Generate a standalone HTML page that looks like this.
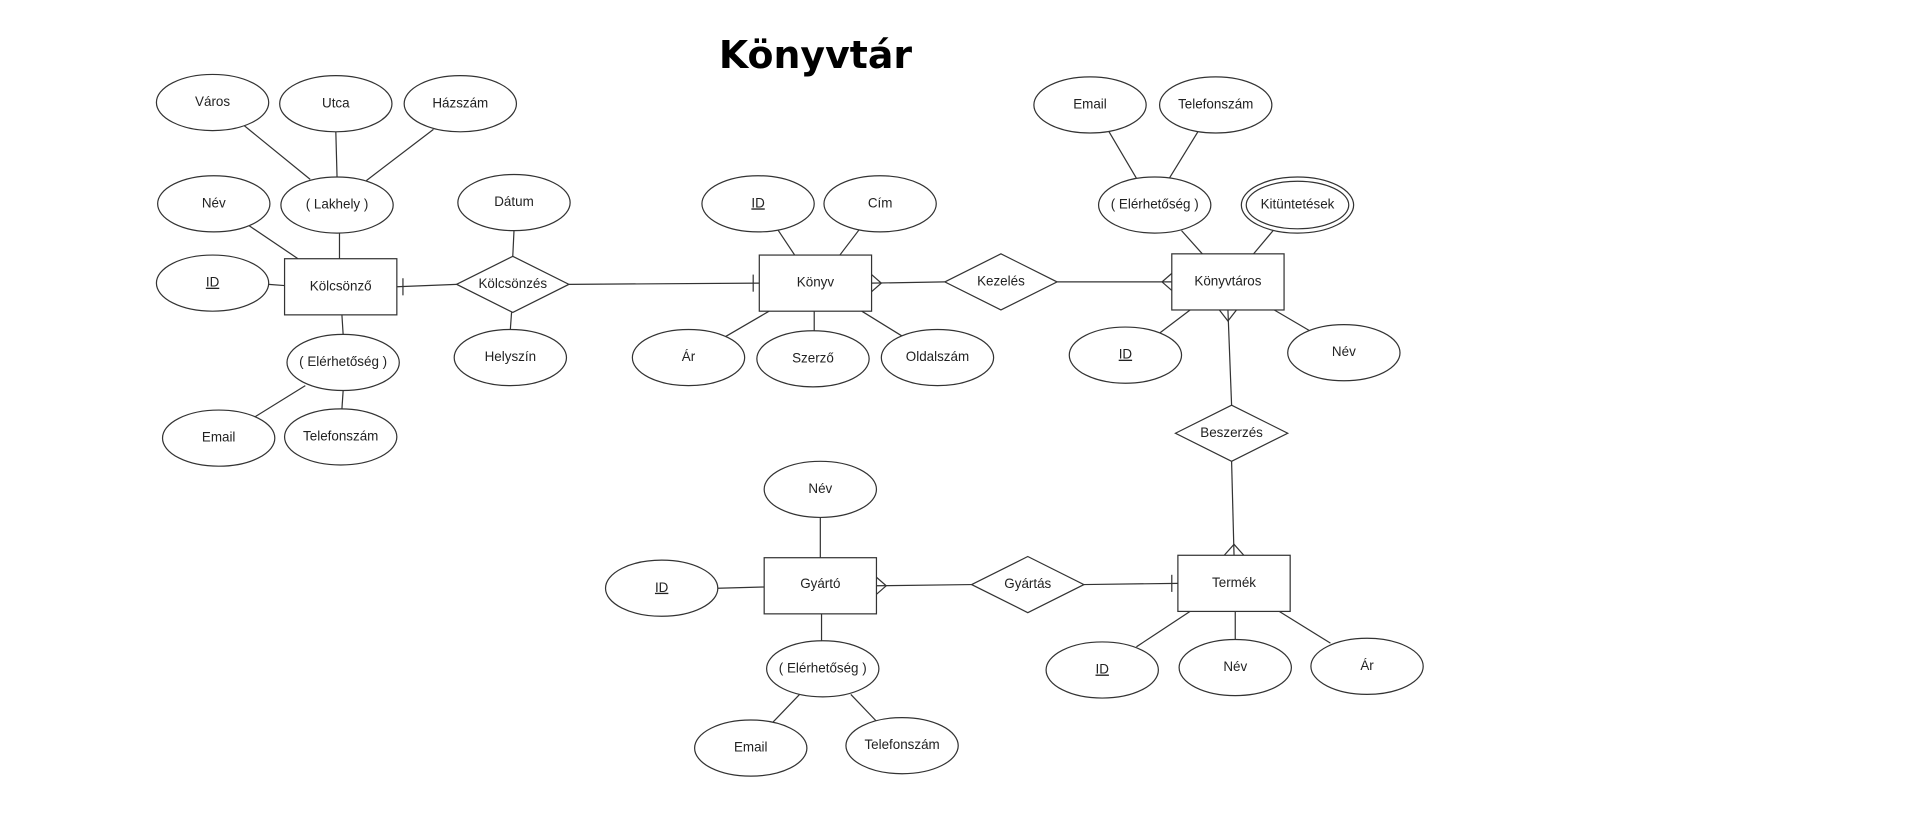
<!DOCTYPE html>
<html><head><meta charset="utf-8"><style>
html,body{margin:0;padding:0;background:#fff;}
svg{display:block}
text{font-family:"Liberation Sans",sans-serif;font-size:11px;fill:#222;text-anchor:middle;dominant-baseline:middle}
</style></head><body>
<svg width="1914" height="814" viewBox="0 0 1568 667" xmlns="http://www.w3.org/2000/svg">
<g stroke="#333" stroke-width="1" fill="none">
<line x1="200" y1="103" x2="254" y2="147"/><line x1="275" y1="108" x2="276" y2="145"/><line x1="355" y1="106" x2="300" y2="148"/>
<line x1="204" y1="185" x2="244" y2="212"/><line x1="278" y1="191" x2="278" y2="212"/>
<line x1="220" y1="233" x2="233" y2="234"/>
<line x1="280" y1="258" x2="281" y2="274"/>
<line x1="250" y1="316" x2="208" y2="342"/><line x1="281" y1="320" x2="280" y2="335"/>
<line x1="421" y1="189" x2="420" y2="210"/><line x1="419" y1="256" x2="418" y2="270"/>
<line x1="637" y1="188" x2="651" y2="209"/><line x1="704" y1="188" x2="688" y2="209"/>
<line x1="630" y1="255" x2="594" y2="276"/><line x1="667" y1="255" x2="667" y2="271"/><line x1="706" y1="255" x2="740" y2="276"/>
<line x1="908" y1="107" x2="931" y2="146"/><line x1="982" y1="107" x2="958" y2="146"/>
<line x1="968" y1="189" x2="985" y2="208"/><line x1="1043" y1="189" x2="1027" y2="208"/>
<line x1="975" y1="254" x2="950" y2="273"/><line x1="1044" y1="254" x2="1073" y2="271"/>
<line x1="672" y1="424" x2="672" y2="457"/><line x1="588" y1="482" x2="626" y2="481"/>
<line x1="673" y1="503" x2="673" y2="525"/>
<line x1="655" y1="569" x2="631" y2="594"/><line x1="697" y1="569" x2="718" y2="591"/>
<line x1="975" y1="501" x2="931" y2="530"/><line x1="1012" y1="501" x2="1012" y2="524"/><line x1="1048" y1="501" x2="1090" y2="527"/>
<line x1="325" y1="235" x2="374" y2="233"/><line x1="330" y1="228" x2="330" y2="242"/>
<line x1="466" y1="233" x2="622" y2="232"/><line x1="617" y1="225" x2="617" y2="239"/>
<line x1="714" y1="232" x2="774" y2="231"/><path d="M714 225 L722 232 L714 239"/>
<line x1="866" y1="231" x2="960" y2="231"/><path d="M960 224 L952 231 L960 238"/>
<line x1="1006" y1="254" x2="1009" y2="332"/><path d="M999 254 L1006 263 L1013 254"/>
<line x1="1009" y1="378" x2="1011" y2="455"/><path d="M1003 455 L1011 446 L1019 455"/>
<line x1="718" y1="480" x2="796" y2="479"/><path d="M718 473 L726 480 L718 487"/>
<line x1="888" y1="479" x2="965" y2="478"/><line x1="960" y1="471" x2="960" y2="485"/>
<rect x="233" y="212" width="92" height="46" fill="#fff"/>
<rect x="622" y="209" width="92" height="46" fill="#fff"/>
<rect x="960" y="208" width="92" height="46" fill="#fff"/>
<rect x="626" y="457" width="92" height="46" fill="#fff"/>
<rect x="965" y="455" width="92" height="46" fill="#fff"/>
<polygon points="374,233 420,210 466,233 420,256" fill="#fff"/>
<polygon points="774,231 820,208 866,231 820,254" fill="#fff"/>
<polygon points="963,355 1009,332 1055,355 1009,378" fill="#fff"/>
<polygon points="796,479 842,456 888,479 842,502" fill="#fff"/>
<g fill="#fff">
<ellipse cx="174" cy="84" rx="46" ry="23"/><ellipse cx="275" cy="85" rx="46" ry="23"/><ellipse cx="377" cy="85" rx="46" ry="23"/>
<ellipse cx="175" cy="167" rx="46" ry="23"/><ellipse cx="276" cy="168" rx="46" ry="23"/><ellipse cx="174" cy="232" rx="46" ry="23"/>
<ellipse cx="281" cy="297" rx="46" ry="23"/><ellipse cx="179" cy="359" rx="46" ry="23"/><ellipse cx="279" cy="358" rx="46" ry="23"/>
<ellipse cx="421" cy="166" rx="46" ry="23"/><ellipse cx="418" cy="293" rx="46" ry="23"/>
<ellipse cx="621" cy="167" rx="46" ry="23"/><ellipse cx="721" cy="167" rx="46" ry="23"/>
<ellipse cx="564" cy="293" rx="46" ry="23"/><ellipse cx="666" cy="294" rx="46" ry="23"/><ellipse cx="768" cy="293" rx="46" ry="23"/>
<ellipse cx="893" cy="86" rx="46" ry="23"/><ellipse cx="996" cy="86" rx="46" ry="23"/>
<ellipse cx="946" cy="168" rx="46" ry="23"/>
<ellipse cx="1063" cy="168" rx="46" ry="23"/><ellipse cx="1063" cy="168" rx="42" ry="19.5"/>
<ellipse cx="922" cy="291" rx="46" ry="23"/><ellipse cx="1101" cy="289" rx="46" ry="23"/>
<ellipse cx="672" cy="401" rx="46" ry="23"/><ellipse cx="542" cy="482" rx="46" ry="23"/>
<ellipse cx="674" cy="548" rx="46" ry="23"/><ellipse cx="615" cy="613" rx="46" ry="23"/><ellipse cx="739" cy="611" rx="46" ry="23"/>
<ellipse cx="903" cy="549" rx="46" ry="23"/><ellipse cx="1012" cy="547" rx="46" ry="23"/><ellipse cx="1120" cy="546" rx="46" ry="23"/>
</g>
</g>
<text x="668" y="47" style="font-family:'DejaVu Sans',sans-serif;font-size:31px;font-weight:bold;fill:#000">Könyvtár</text>
<g>
<text x="174" y="84">Város</text><text x="275" y="85">Utca</text><text x="377" y="85">Házszám</text>
<text x="175" y="167">Név</text><text x="276" y="168">( Lakhely )</text><text x="174" y="232" text-decoration="underline">ID</text>
<text x="279" y="235">Kölcsönző</text><text x="420" y="233">Kölcsönzés</text>
<text x="281" y="297">( Elérhetőség )</text><text x="179" y="359">Email</text><text x="279" y="358">Telefonszám</text>
<text x="421" y="166">Dátum</text><text x="418" y="293">Helyszín</text>
<text x="621" y="167" text-decoration="underline">ID</text><text x="721" y="167">Cím</text>
<text x="668" y="232">Könyv</text>
<text x="564" y="293">Ár</text><text x="666" y="294">Szerző</text><text x="768" y="293">Oldalszám</text>
<text x="820" y="231">Kezelés</text>
<text x="893" y="86">Email</text><text x="996" y="86">Telefonszám</text>
<text x="946" y="168">( Elérhetőség )</text><text x="1063" y="168">Kitüntetések</text>
<text x="1006" y="231">Könyvtáros</text>
<text x="922" y="291" text-decoration="underline">ID</text><text x="1101" y="289">Név</text>
<text x="1009" y="355">Beszerzés</text>
<text x="672" y="401">Név</text><text x="542" y="482" text-decoration="underline">ID</text>
<text x="672" y="479">Gyártó</text><text x="842" y="479">Gyártás</text><text x="1011" y="478">Termék</text>
<text x="674" y="548">( Elérhetőség )</text><text x="615" y="613">Email</text><text x="739" y="611">Telefonszám</text>
<text x="903" y="549" text-decoration="underline">ID</text><text x="1012" y="547">Név</text><text x="1120" y="546">Ár</text>
</g>
</svg>
</body></html>
